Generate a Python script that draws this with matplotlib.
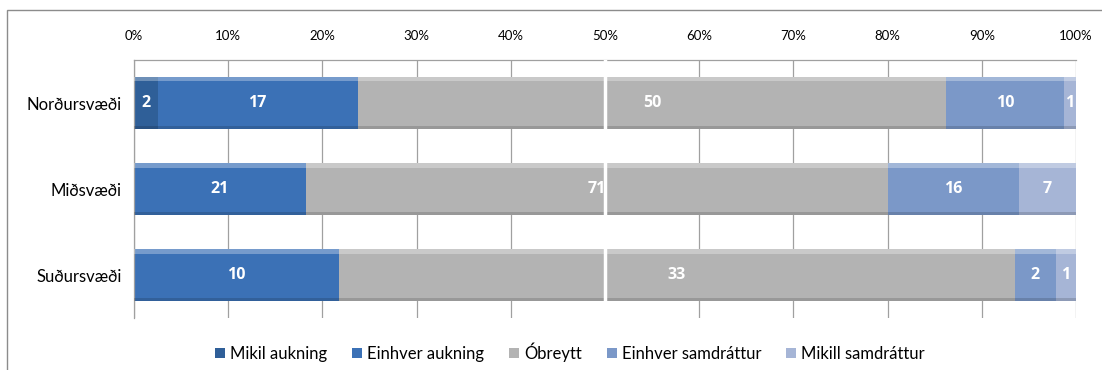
import numpy as np
import matplotlib
matplotlib.use("Agg")
import matplotlib.pyplot as plt
from matplotlib.patches import Rectangle, Patch

plt.rcParams['font.family'] = ['Lato', 'DejaVu Sans']

# svæði og svör (fjöldi)
regions = ["Norðursvæði", "Miðsvæði", "Suðursvæði"]
series = ["Mikil aukning", "Einhver aukning", "Óbreytt",
          "Einhver samdráttur", "Mikill samdráttur"]
mikil_aukning = [2, 0, 0]
einhver_aukning = [17, 21, 10]
obreytt = [50, 71, 33]
einhver_samdrattur = [10, 16, 2]
mikill_samdrattur = [1, 7, 1]
colors = ["#2f5f98", "#3b71b6", "#b3b3b3", "#7b98c8", "#a6b5d6"]

counts = np.array([mikil_aukning, einhver_aukning, obreytt,
                   einhver_samdrattur, mikill_samdrattur], dtype=float)
pct = counts / counts.sum(axis=0) * 100

fig = plt.figure(figsize=(11.02, 3.7), dpi=100)
ax = fig.add_axes([134 / 1102, 1 - 318 / 370, 942 / 1102, 258 / 370])

y = np.arange(len(regions))
h = 0.6
left = np.zeros(len(regions))
for i, name in enumerate(series):
    w = pct[i]
    ax.barh(y, w, left=left, height=h, color=colors[i], edgecolor="none", zorder=2)
    # smá gljái: ljós rönd efst, dökk neðst
    ax.barh(y - h / 2 + 0.025, w, left=left, height=0.05, color="white",
            alpha=0.3, edgecolor="none", zorder=3)
    ax.barh(y + h / 2 - 0.015, w, left=left, height=0.03, color="black",
            alpha=0.15, edgecolor="none", zorder=3)
    for j in range(len(regions)):
        if counts[i, j] > 0:
            ax.text(left[j] + w[j] / 2, y[j], f"{int(counts[i, j])}",
                    ha="center", va="center", color="white",
                    fontsize=11.5, fontweight="bold",
                    family=["Open Sans", "DejaVu Sans"], zorder=5)
    left += w

ax.axvline(50, color="white", lw=2.5, zorder=4)

ax.set_xlim(0, 100)
ax.set_ylim(2.5, -0.5)
ax.set_xticks(np.arange(0, 101, 10))
ax.set_xticklabels([f"{v}%" for v in range(0, 101, 10)], fontsize=9.5)
ax.xaxis.tick_top()
ax.tick_params(axis="x", length=0, pad=13)
ax.set_yticks(y)
ax.set_yticklabels(regions, fontsize=12)
ax.tick_params(axis="y", length=0, pad=9)
ax.grid(axis="x", color="#a0a0a0", lw=0.9, zorder=0)
ax.set_axisbelow(True)
for s in ["bottom", "right"]:
    ax.spines[s].set_visible(False)
for s in ["top", "left"]:
    ax.spines[s].set_color("#a0a0a0")
    ax.spines[s].set_linewidth(0.9)

handles = [Patch(facecolor=c, edgecolor="none") for c in colors]
fig.legend(handles, series, loc="center", bbox_to_anchor=(570 / 1102, 1 - 352 / 370),
           ncol=5, frameon=False, fontsize=12, handlelength=0.6, handleheight=0.6,
           handletextpad=0.3, columnspacing=1.5)

fig.patches.append(Rectangle((7 / 1102, -0.5), 2, 1.5 - 10 / 370, fill=False,
                             edgecolor="#8c8c8c", lw=1, transform=fig.transFigure))

fig.savefig("out.png", dpi=100)
